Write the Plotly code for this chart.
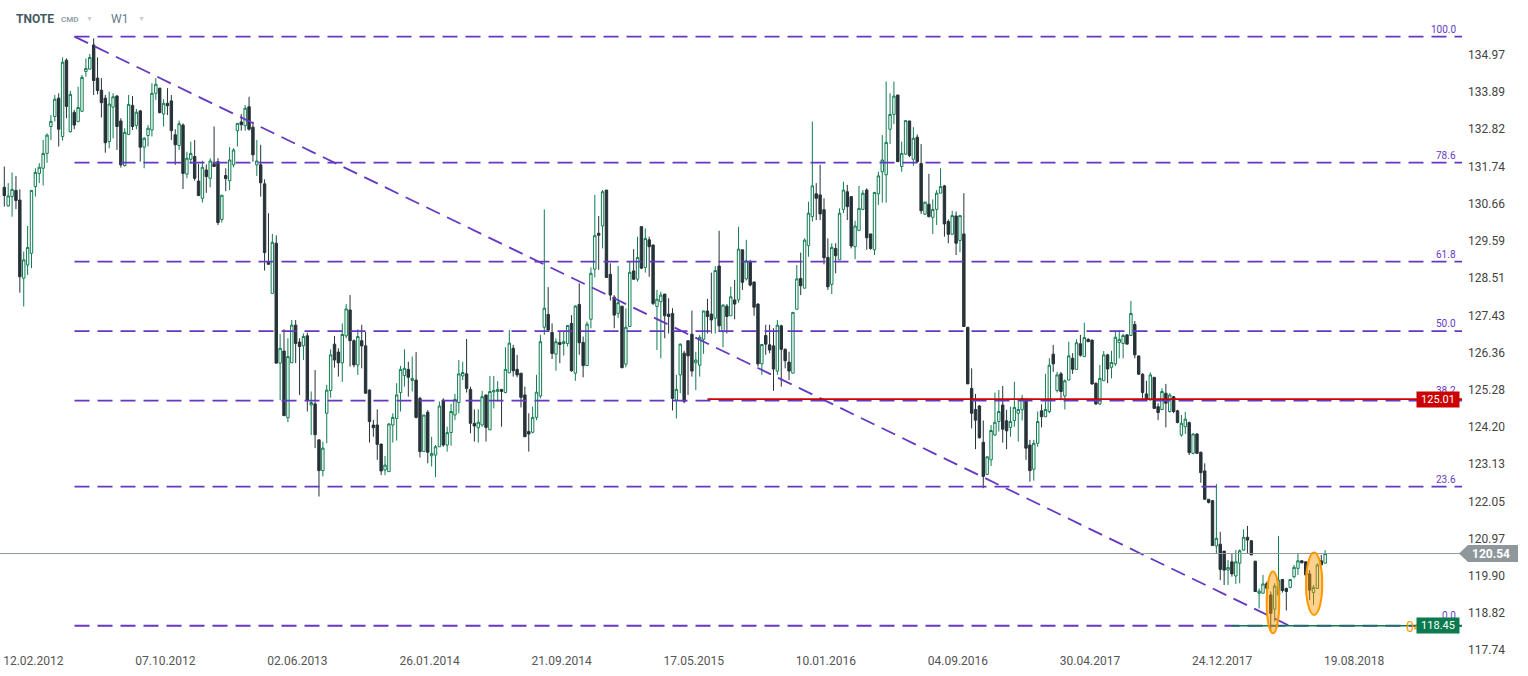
import pandas as pd
import plotly.graph_objects as go

symbol = "TNOTE"
first_week = "2012-02-12"

open_ = [
    131.14, 130.60, 130.87, 131.05, 130.77, 128.51, 128.89, 129.23, 131.16, 131.54,
    131.69, 132.12, 132.90, 133.19, 133.72, 132.61, 134.82, 132.75, 133.31, 133.04,
    133.34, 134.49, 134.56, 135.26, 134.30, 133.95, 133.72, 132.46, 133.46, 133.78,
    133.06, 131.77, 132.67, 133.51, 132.93, 133.35, 132.30, 132.64, 132.80, 133.86,
    134.01, 133.26, 133.57, 133.64, 132.66, 132.35, 132.94, 131.52, 131.95, 132.03,
    131.32, 130.82, 131.64, 131.40, 131.82, 131.88, 130.21, 131.48, 131.33, 131.79,
    132.78, 133.03, 132.92, 133.47, 132.88, 131.79, 131.79, 131.24, 128.99, 128.07,
    129.52, 126.05, 126.40, 124.47, 126.06, 127.15, 126.66, 126.55, 126.84, 124.84,
    124.87, 123.83, 122.94, 124.60, 125.26, 126.60, 126.37, 126.06, 126.84, 127.59,
    126.70, 126.00, 126.70, 126.55, 125.27, 124.26, 124.26, 123.71, 122.96, 122.91,
    124.26, 124.45, 125.20, 125.69, 125.87, 125.55, 125.56, 125.03, 123.49, 124.63,
    123.37, 123.39, 123.63, 124.98, 123.68, 124.04, 124.55, 124.91, 125.68, 125.74,
    125.29, 124.31, 124.18, 124.26, 125.13, 124.12, 125.22, 125.23, 125.29, 125.20,
    125.77, 126.48, 125.87, 125.76, 125.13, 124.07, 124.05, 124.48, 125.10, 127.09,
    127.46, 126.94, 126.31, 126.65, 126.62, 126.62, 127.20, 125.76, 127.75, 126.65,
    125.98, 127.32, 128.77, 129.81, 130.02, 131.06, 128.62, 127.96, 127.49, 127.70,
    126.02, 127.11, 128.72, 128.48, 130.00, 128.82, 129.62, 129.47, 127.69, 127.83,
    128.05, 127.47, 127.49, 124.98, 125.71, 126.34, 126.70, 126.89, 126.06, 125.99,
    126.74, 127.56, 127.47, 127.35, 128.86, 126.96, 127.70, 127.42, 127.88, 127.88,
    129.33, 128.49, 128.99, 128.40, 127.76, 126.03, 126.85, 126.58, 126.55, 125.82,
    127.13, 126.45, 126.08, 125.76, 127.61, 128.50, 128.22, 129.45, 130.29, 130.95,
    130.92, 130.49, 129.11, 128.33, 129.37, 129.04, 130.50, 131.01, 130.87, 129.42,
    129.89, 130.50, 131.06, 129.79, 129.33, 130.95, 131.59, 131.50, 132.82, 133.25,
    133.81, 131.74, 132.10, 133.06, 131.95, 132.59, 131.83, 130.36, 130.65, 130.27,
    130.50, 130.97, 131.18, 130.15, 129.78, 130.31, 129.60, 129.79, 127.09, 125.32,
    124.71, 124.81, 123.76, 122.83, 123.25, 123.97, 124.36, 124.84, 124.38, 124.19,
    124.39, 124.60, 124.70, 125.00, 123.68, 122.98, 123.73, 124.67, 124.50, 124.65,
    126.31, 125.26, 125.74, 125.10, 125.56, 126.19, 125.87, 126.61, 126.24, 126.74,
    126.72, 125.47, 124.87, 125.54, 126.29, 125.93, 126.03, 126.65, 126.62, 126.87,
    126.85, 127.17, 126.26, 125.73, 125.16, 124.98, 125.64, 124.79, 124.71, 125.18,
    124.65, 125.08, 124.67, 123.97, 124.21, 124.33, 123.44, 124.00, 123.47, 122.93,
    122.11, 122.07, 120.76, 120.81, 120.61, 120.06, 120.30, 119.89, 120.26, 120.64,
    121.01, 120.91, 120.32, 119.39, 119.39, 119.67, 119.34, 118.93, 119.34, 119.79,
    119.53, 119.56, 119.87, 120.11, 120.33, 120.30, 119.95, 119.41, 119.53, 120.33,
    120.26,
]

high = [
    131.74, 131.26, 131.57, 131.47, 131.08, 129.28, 130.02, 131.06, 131.69, 131.84,
    132.51, 132.70, 133.23, 133.81, 133.86, 134.90, 134.87, 133.93, 133.38, 134.05,
    134.39, 134.87, 135.00, 135.45, 134.90, 134.30, 133.81, 133.91, 133.86, 133.81,
    133.14, 132.85, 133.81, 133.78, 133.41, 133.38, 132.59, 132.94, 134.15, 134.30,
    134.01, 133.69, 134.01, 133.81, 132.82, 133.07, 132.99, 132.17, 132.46, 132.51,
    131.82, 131.91, 131.80, 131.98, 132.90, 131.98, 130.92, 131.69, 132.30, 132.27,
    132.99, 133.26, 133.52, 133.76, 133.04, 132.51, 132.37, 131.37, 130.39, 129.79,
    129.75, 126.89, 127.03, 126.77, 127.30, 127.30, 126.77, 126.91, 126.93, 125.23,
    125.85, 123.83, 123.78, 125.42, 126.45, 126.84, 126.48, 127.20, 127.76, 128.02,
    126.74, 127.03, 127.16, 126.96, 125.29, 124.41, 124.71, 123.71, 123.36, 124.31,
    124.60, 125.47, 125.97, 126.45, 126.09, 126.24, 126.37, 125.08, 124.55, 124.69,
    123.92, 123.68, 124.94, 125.03, 124.21, 124.87, 125.16, 126.14, 126.09, 126.75,
    125.37, 124.71, 124.71, 125.25, 125.13, 125.68, 125.68, 125.53, 125.29, 126.51,
    127.01, 126.58, 126.29, 125.76, 125.37, 124.60, 124.79, 125.71, 126.87, 130.50,
    128.25, 127.20, 126.77, 126.96, 126.96, 127.14, 127.44, 127.73, 128.36, 126.82,
    127.25, 128.82, 130.92, 130.31, 131.06, 131.06, 128.94, 128.02, 128.86, 127.70,
    127.64, 129.01, 129.35, 129.71, 130.02, 129.95, 129.71, 129.47, 128.17, 128.12,
    128.05, 127.93, 127.64, 125.71, 126.62, 126.41, 126.70, 127.57, 126.38, 126.87,
    127.57, 127.91, 128.67, 128.86, 129.88, 127.76, 127.76, 128.26, 128.46, 130.00,
    129.33, 129.62, 129.04, 128.40, 127.78, 126.59, 127.16, 127.16, 127.06, 127.30,
    127.16, 126.48, 126.38, 127.52, 128.89, 129.25, 129.66, 130.72, 133.04, 131.26,
    131.79, 130.82, 129.66, 129.52, 129.52, 130.53, 131.30, 131.21, 130.87, 130.17,
    131.18, 131.06, 131.11, 129.79, 131.01, 131.59, 132.65, 134.20, 133.86, 134.20,
    133.81, 132.46, 133.07, 133.06, 132.88, 132.67, 132.39, 130.72, 131.53, 130.79,
    131.06, 131.69, 131.21, 130.21, 130.46, 130.44, 130.32, 130.97, 127.09, 125.90,
    125.16, 124.84, 124.39, 123.34, 124.26, 125.20, 125.27, 125.39, 124.70, 124.79,
    125.51, 124.94, 125.13, 125.03, 123.83, 123.83, 124.65, 124.86, 125.74, 126.19,
    126.58, 125.80, 125.80, 125.58, 126.67, 126.34, 126.74, 126.87, 127.22, 126.77,
    126.72, 125.49, 126.00, 126.40, 126.32, 126.41, 126.99, 127.01, 126.90, 126.87,
    127.85, 127.27, 126.26, 125.76, 125.54, 125.78, 125.64, 124.89, 125.32, 125.45,
    125.18, 125.10, 124.70, 124.55, 124.64, 124.36, 124.02, 124.02, 123.49, 123.15,
    122.11, 122.09, 122.55, 121.17, 120.61, 120.35, 120.55, 120.64, 120.66, 121.24,
    121.34, 120.91, 120.32, 119.53, 119.92, 119.73, 119.44, 119.68, 121.05, 119.79,
    119.55, 119.79, 120.21, 120.55, 120.33, 120.30, 120.06, 119.63, 120.26, 120.50,
    120.64,
]

low = [
    130.58, 130.58, 130.29, 130.51, 128.09, 127.69, 128.60, 128.80, 130.87, 131.26,
    131.19, 131.85, 132.51, 133.04, 132.32, 132.49, 133.14, 132.72, 132.82, 133.04,
    133.33, 134.34, 134.56, 133.81, 133.83, 133.16, 132.14, 132.27, 132.56, 132.22,
    131.71, 131.74, 132.65, 132.80, 132.82, 131.88, 131.69, 132.32, 132.61, 133.67,
    133.28, 132.90, 133.23, 132.51, 131.79, 132.22, 131.09, 131.40, 131.82, 131.33,
    130.89, 130.70, 130.98, 131.14, 131.74, 130.05, 130.12, 131.03, 131.06, 131.72,
    132.32, 132.78, 132.78, 132.78, 131.88, 131.47, 130.87, 128.73, 128.91, 128.07,
    126.05, 124.98, 124.53, 124.34, 126.06, 126.05, 125.13, 126.14, 124.65, 123.97,
    123.59, 122.19, 122.77, 123.73, 125.05, 125.92, 125.66, 125.51, 126.77, 125.95,
    125.93, 125.71, 125.90, 125.16, 123.75, 123.92, 123.25, 122.81, 122.81, 122.91,
    123.75, 123.81, 124.65, 125.37, 125.08, 125.23, 124.45, 123.32, 123.49, 123.15,
    123.06, 122.75, 123.63, 123.63, 123.49, 123.66, 124.40, 124.60, 125.56, 125.20,
    124.02, 123.78, 123.75, 124.21, 123.78, 124.12, 124.74, 124.94, 124.21, 125.18,
    125.76, 125.66, 125.64, 124.77, 123.92, 123.49, 124.02, 124.40, 125.03, 126.87,
    126.96, 126.17, 125.83, 126.05, 126.27, 126.53, 125.80, 125.54, 126.29, 125.64,
    125.98, 127.06, 128.53, 128.75, 129.37, 128.53, 127.86, 127.06, 127.35, 125.90,
    125.93, 127.11, 128.46, 128.41, 128.77, 128.67, 128.55, 127.73, 126.43, 126.19,
    126.77, 126.91, 124.68, 124.45, 125.18, 124.89, 125.13, 125.66, 125.27, 125.66,
    126.32, 126.91, 126.91, 126.91, 126.96, 126.51, 126.91, 127.42, 127.32, 127.80,
    128.17, 128.44, 128.27, 127.42, 125.95, 125.71, 126.29, 126.34, 125.25, 125.71,
    125.37, 125.90, 125.56, 125.76, 127.61, 128.02, 128.22, 129.13, 130.15, 130.19,
    130.19, 128.91, 128.17, 128.05, 128.65, 129.04, 130.39, 130.19, 129.37, 129.06,
    129.89, 130.50, 129.33, 129.33, 129.18, 130.63, 130.70, 130.70, 132.39, 132.97,
    131.88, 131.59, 132.08, 132.01, 131.76, 131.85, 130.37, 130.34, 130.27, 129.79,
    130.05, 130.97, 129.71, 129.52, 129.78, 129.18, 129.26, 127.11, 125.45, 124.16,
    123.56, 123.87, 122.43, 122.81, 123.07, 123.94, 124.07, 123.75, 123.56, 123.92,
    124.21, 123.78, 124.39, 123.25, 122.62, 122.65, 123.63, 124.19, 124.50, 124.60,
    125.80, 125.20, 124.97, 124.71, 125.56, 125.74, 125.87, 126.24, 126.24, 126.67,
    125.42, 124.84, 124.84, 125.54, 125.47, 125.61, 125.97, 126.19, 126.19, 126.60,
    126.85, 126.19, 125.73, 125.03, 124.97, 124.98, 124.74, 124.40, 124.69, 124.19,
    124.62, 124.60, 124.31, 123.92, 124.00, 123.39, 123.41, 123.44, 122.59, 122.11,
    121.99, 120.77, 120.55, 119.77, 119.63, 119.63, 119.87, 119.66, 119.68, 120.62,
    120.53, 120.50, 119.44, 118.95, 119.39, 119.15, 118.28, 118.57, 119.34, 119.41,
    118.89, 119.53, 119.82, 119.92, 120.26, 119.87, 119.19, 119.05, 119.53, 120.21,
    120.26,
]

close = [
    130.90, 130.89, 131.08, 130.76, 128.55, 129.04, 129.40, 131.05, 131.57, 131.72,
    132.12, 132.65, 133.05, 133.69, 132.82, 134.76, 133.48, 133.83, 132.94, 133.45,
    134.32, 134.58, 134.90, 134.23, 133.94, 133.59, 132.43, 133.55, 133.76, 132.90,
    131.79, 132.73, 133.54, 132.90, 133.31, 132.30, 132.56, 132.85, 133.86, 134.12,
    133.30, 133.57, 133.50, 132.78, 132.37, 132.98, 131.54, 131.98, 132.12, 131.40,
    130.90, 131.72, 131.45, 131.90, 131.74, 130.12, 130.91, 131.39, 131.93, 132.22,
    132.99, 132.95, 133.43, 132.82, 132.08, 131.90, 131.27, 129.25, 128.91, 129.55,
    126.05, 126.48, 124.53, 126.24, 127.15, 126.62, 126.53, 126.82, 124.97, 124.91,
    123.98, 122.94, 123.59, 125.27, 126.29, 126.14, 126.06, 126.88, 127.62, 126.70,
    126.00, 126.82, 126.55, 125.18, 124.36, 124.18, 123.70, 122.93, 123.10, 124.29,
    124.48, 125.13, 125.87, 125.90, 125.64, 125.61, 124.48, 123.49, 124.55, 123.47,
    123.44, 123.63, 124.81, 123.68, 124.04, 124.65, 125.00, 125.74, 125.78, 125.32,
    124.31, 124.23, 124.34, 125.08, 124.19, 125.23, 125.26, 125.29, 125.23, 125.87,
    126.63, 125.83, 125.71, 125.06, 123.92, 124.00, 124.48, 125.21, 126.67, 127.64,
    127.01, 126.33, 126.67, 126.59, 126.67, 127.14, 125.83, 127.70, 126.64, 125.98,
    127.18, 128.65, 129.74, 129.75, 131.01, 128.53, 128.02, 127.44, 127.80, 125.92,
    127.09, 128.68, 128.48, 129.11, 128.80, 129.66, 129.42, 127.78, 127.90, 128.02,
    127.42, 127.40, 125.03, 125.29, 126.60, 124.94, 126.26, 125.82, 126.14, 126.80,
    127.56, 127.40, 127.30, 128.73, 127.13, 127.73, 127.40, 127.97, 127.76, 129.35,
    128.39, 129.01, 128.31, 127.67, 126.03, 126.59, 126.60, 126.43, 125.88, 127.15,
    126.45, 126.12, 125.82, 127.52, 128.49, 128.29, 129.61, 130.39, 131.18, 130.82,
    130.37, 129.10, 128.26, 129.40, 129.16, 130.39, 131.06, 130.58, 129.44, 130.02,
    130.53, 130.97, 129.68, 129.37, 130.99, 131.47, 131.93, 132.44, 133.25, 133.78,
    131.88, 132.12, 133.07, 132.06, 132.56, 131.88, 130.46, 130.71, 130.29, 130.50,
    130.97, 131.16, 130.08, 129.78, 130.32, 129.52, 130.32, 127.11, 125.45, 124.60,
    124.40, 123.89, 122.77, 123.34, 124.10, 124.34, 124.65, 124.14, 124.09, 124.36,
    124.77, 124.71, 125.03, 123.59, 122.94, 123.73, 124.36, 124.50, 124.71, 125.99,
    126.03, 125.71, 125.23, 125.54, 126.26, 125.87, 126.64, 126.28, 126.79, 126.67,
    125.45, 124.87, 125.61, 126.29, 125.88, 126.07, 126.80, 126.74, 126.85, 126.60,
    127.49, 126.29, 125.73, 125.20, 125.00, 125.71, 124.74, 124.62, 125.23, 124.89,
    125.13, 124.65, 124.33, 124.31, 124.43, 123.46, 124.00, 123.44, 122.88, 122.11,
    122.02, 120.77, 120.98, 120.08, 120.06, 120.14, 119.95, 120.30, 120.62, 121.01,
    120.93, 120.50, 119.44, 119.45, 119.66, 119.53, 118.81, 119.60, 119.77, 119.47,
    119.44, 119.79, 120.14, 120.33, 120.27, 119.92, 119.48, 119.56, 120.21, 120.21,
    120.54,
]

x_tick_labels = ["12.02.2012", "07.10.2012", "02.06.2013", "26.01.2014", "21.09.2014",
                 "17.05.2015", "10.01.2016", "04.09.2016", "30.04.2017", "24.12.2017",
                 "19.08.2018"]
y_tick_labels = ["134.97", "133.89", "132.82", "131.74", "130.66", "129.59", "128.51",
                 "127.43", "126.36", "125.28", "124.20", "123.13", "122.05", "120.97",
                 "119.90", "118.82", "117.74"]

fib_levels = [100.0, 78.6, 61.8, 50.0, 38.2, 23.6, 0.0]
fib_price_100 = 135.50
fib_price_0 = 118.45
fib_time_100 = "2012-06-17 12:00"
fib_time_0 = "2018-06-15 17:00"

resistance_price = 125.01
resistance_from = "2015-08-02"
support_price = 118.45
support_from = "2018-03-04"
last_price = 120.54

highlight_windows = [("2018-05-05 14:00", "2018-05-28 07:00", 118.23, 120.02),
                     ("2018-07-15 10:00", "2018-08-13 19:00", 118.76, 120.57)]

x_view = ["2012-02-04 06:00", "2019-04-22 14:00"]
y_view = [117.69, 135.75]

n = len(close)
if not (len(open_) == len(high) == len(low) == n):
    raise ValueError("length mismatch %d %d %d %d" % (len(open_), len(high), len(low), n))

dates = pd.date_range(first_week, periods=n, freq="7D")

UP = "#0f7d50"
DOWN = "#263238"
FIB = "#6538c2"
RED = "#cc0000"
GRAY = "#8e989c"
ORANGE = "#ff9800"
GREENBOX = "#0b7a4e"
FONT = "Roboto"

W, H = 1528, 676
ML, MR, MT, MB = 0, 66, 28, 24
PW = W - ML - MR
PH = H - MT - MB


def py_paper(price):
    return (price - y_view[0]) / (y_view[1] - y_view[0])


fig = go.Figure()
fig.add_trace(go.Candlestick(
    x=dates, open=open_, high=high, low=low, close=close,
    increasing=dict(line=dict(color=UP, width=1), fillcolor="white"),
    decreasing=dict(line=dict(color=DOWN, width=1), fillcolor=DOWN),
    whiskerwidth=0, hoverinfo="skip", showlegend=False,
))

dash = "15px,8px"
for lvl in fib_levels:
    price = fib_price_0 + (fib_price_100 - fib_price_0) * lvl / 100.0
    fig.add_trace(go.Scatter(x=[fib_time_100, x_view[1]], y=[price, price], mode="lines",
                             line=dict(color=FIB, width=1.8, dash=dash),
                             hoverinfo="skip", showlegend=False))
fig.add_trace(go.Scatter(x=[fib_time_100, fib_time_0], y=[fib_price_100, fib_price_0],
                         mode="lines", line=dict(color=FIB, width=1.8, dash=dash),
                         hoverinfo="skip", showlegend=False))

fig.add_trace(go.Scatter(x=[resistance_from, x_view[1]], y=[resistance_price] * 2, mode="lines",
                         line=dict(color=RED, width=1.6), hoverinfo="skip", showlegend=False))
fig.add_trace(go.Scatter(x=[support_from, x_view[1]], y=[support_price] * 2, mode="lines",
                         line=dict(color=GREENBOX, width=1.6), hoverinfo="skip", showlegend=False))
fig.add_trace(go.Scatter(x=x_view, y=[last_price] * 2, mode="lines",
                         line=dict(color=GRAY, width=1), hoverinfo="skip", showlegend=False))

shapes = []
for x0, x1, y0, y1 in highlight_windows:
    shapes.append(dict(type="circle", xref="x", yref="y", x0=x0, x1=x1, y0=y0, y1=y1,
                       line=dict(color=ORANGE, width=2), fillcolor="rgba(255,152,0,0.45)",
                       layer="above"))

# last price arrow tag
yc = py_paper(last_price)
hh = 8.5 / PH
tip = (1459 - ML) / PW
bl = (1468 - ML) / PW
br = (1518 - ML) / PW
shapes.append(dict(type="path", xref="paper", yref="paper",
                   path=f"M {tip},{yc} L {bl},{yc + hh} L {br},{yc + hh} L {br},{yc - hh} L {bl},{yc - hh} Z",
                   fillcolor=GRAY, line=dict(width=0)))

annotations = []
for lvl in fib_levels:
    price = fib_price_0 + (fib_price_100 - fib_price_0) * lvl / 100.0
    lift = 3 if lvl in (38.2, 0.0) else 0
    annotations.append(dict(x=(1458 - ML) / PW, xref="paper", xanchor="right", y=price, yref="y",
                            yanchor="bottom", yshift=lift, text=f"{lvl:.1f}", showarrow=False,
                            font=dict(family=FONT, size=10, color=FIB)))

annotations.append(dict(x=(1404 - ML) / PW, xref="paper", xanchor="left", y=support_price, yref="y",
                        yanchor="middle", yshift=-1, text="04", showarrow=False,
                        font=dict(family=FONT, size=14, color=ORANGE)))
annotations.append(dict(x=(1460 - ML) / PW, xref="paper", xanchor="right", y=resistance_price,
                        yref="y", yanchor="middle", text="125.01", showarrow=False, width=40,
                        bgcolor=RED, borderpad=1, font=dict(family=FONT, size=11, color="white")))
annotations.append(dict(x=(1460 - ML) / PW, xref="paper", xanchor="right", y=support_price,
                        yref="y", yanchor="middle", text="118.45", showarrow=False, width=40,
                        bgcolor=GREENBOX, borderpad=1, font=dict(family=FONT, size=11, color="white")))
annotations.append(dict(x=(1491 - ML) / PW, xref="paper", xanchor="center", y=last_price, yref="y",
                        yanchor="middle", text="<b>120.54</b>", showarrow=False,
                        font=dict(family=FONT, size=12, color="white")))

# header
hy = (H - MB - 19) / PH
annotations += [
    dict(x=(14 - ML) / PW, xref="paper", xanchor="left", y=hy, yref="paper", yanchor="middle",
         text=f"<b>{symbol}</b>", showarrow=False, font=dict(family=FONT, size=12, color="#455a64")),
    dict(x=(59 - ML) / PW, xref="paper", xanchor="left", y=hy, yref="paper", yanchor="middle",
         text="<b>CMD</b>", showarrow=False, font=dict(family=FONT, size=8, color="#90a4ae")),
    dict(x=(84 - ML) / PW, xref="paper", xanchor="left", y=hy, yref="paper", yanchor="middle",
         text="▼", showarrow=False, font=dict(family=FONT, size=7, color="#c3ccd1")),
    dict(x=(109 - ML) / PW, xref="paper", xanchor="left", y=hy, yref="paper", yanchor="middle",
         text="W1", showarrow=False, font=dict(family=FONT, size=12, color="#607d8b")),
    dict(x=(136 - ML) / PW, xref="paper", xanchor="left", y=hy, yref="paper", yanchor="middle",
         text="▼", showarrow=False, font=dict(family=FONT, size=7, color="#c3ccd1")),
]

tick_dates = [pd.to_datetime(s, format="%d.%m.%Y") for s in x_tick_labels]

fig.update_layout(
    width=W, height=H, margin=dict(l=ML, r=MR, t=MT, b=MB),
    paper_bgcolor="white", plot_bgcolor="white",
    showlegend=False, shapes=shapes, annotations=annotations,
    boxgap=0.38, boxgroupgap=0,
    font=dict(family=FONT),
    xaxis=dict(type="date", range=x_view, rangeslider=dict(visible=False), showgrid=False,
               zeroline=False, showline=False, ticks="", tickvals=tick_dates, ticktext=x_tick_labels,
               ticklabelshift=29, ticklabelstandoff=0,
               tickfont=dict(family=FONT, size=12, color="#555555")),
    yaxis=dict(range=y_view, side="right", showgrid=False, zeroline=False, showline=False,
               ticks="", tickvals=[float(v) for v in y_tick_labels], ticktext=y_tick_labels,
               ticklabelstandoff=5, tickfont=dict(family=FONT, size=12, color="#444444")),
)

fig.write_html("out.html", config={"displayModeBar": False, "staticPlot": True},
               post_script="document.body.style.margin='0';document.body.style.overflow='hidden';")
